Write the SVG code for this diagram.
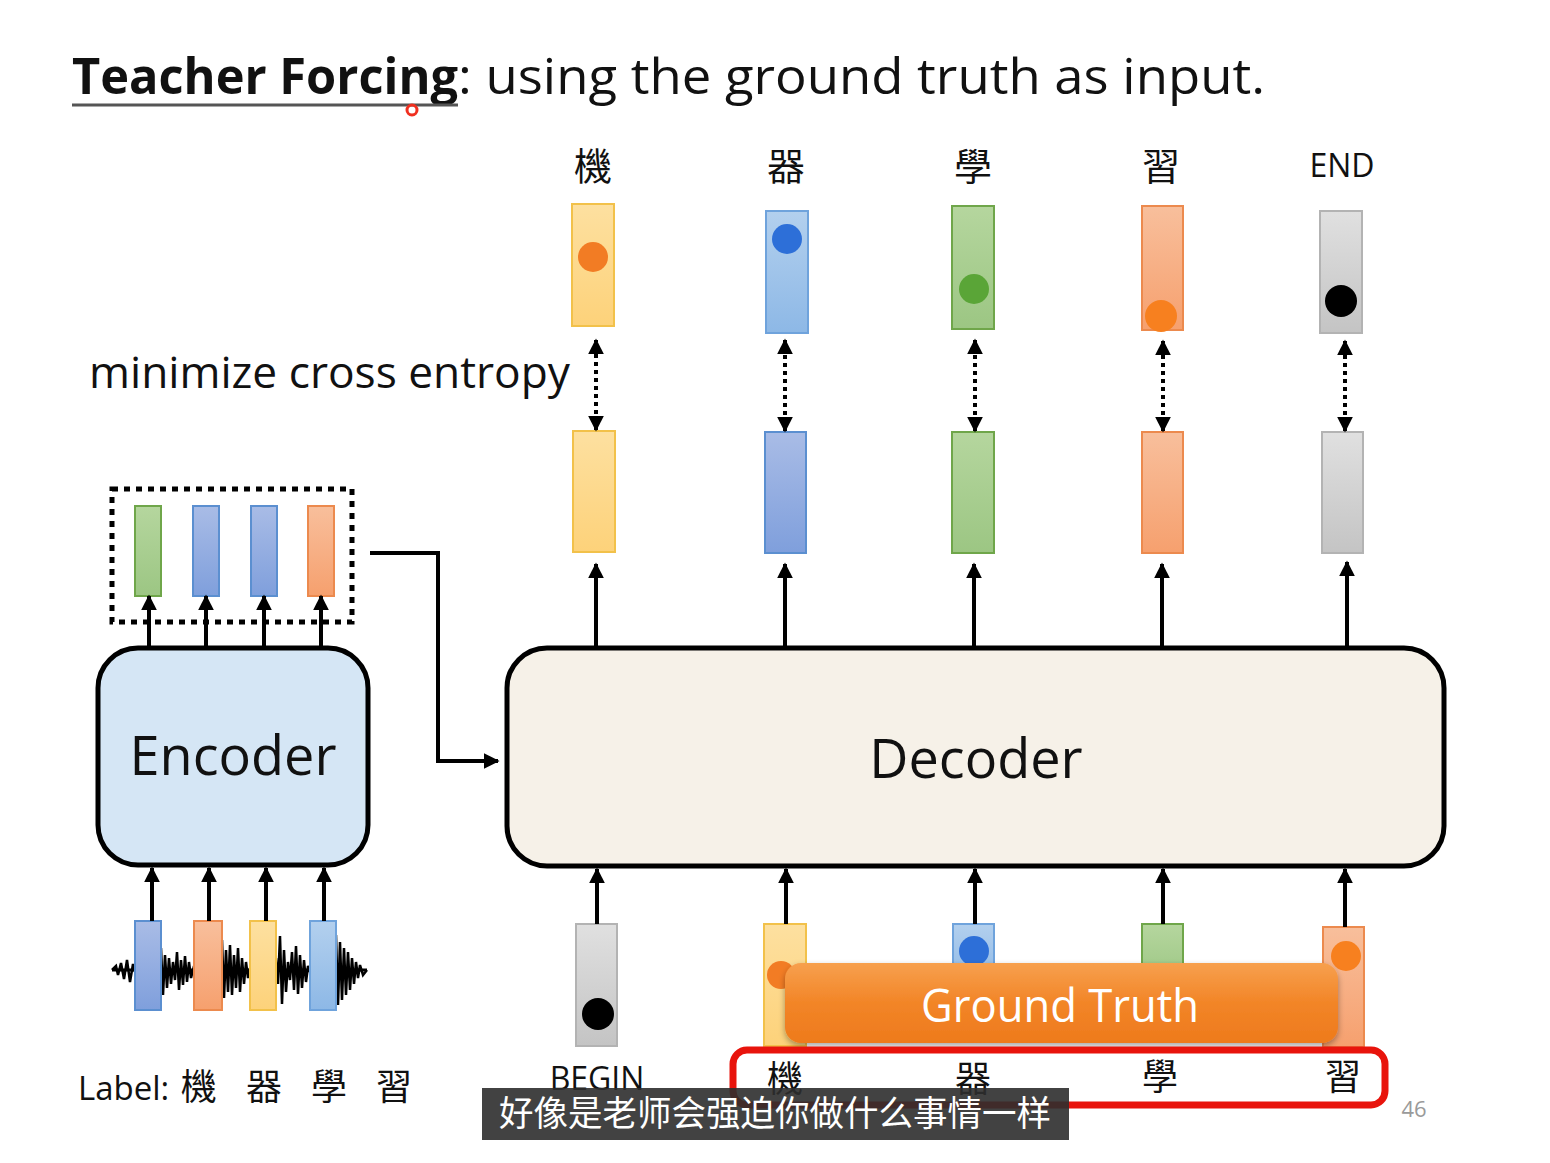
<svg xmlns="http://www.w3.org/2000/svg" width="1550" height="1163" viewBox="0 0 1550 1163">
<style>
.t{font-family:"Open Sans","Liberation Sans",sans-serif;fill:#111}
.cjk{font-family:"Noto Sans CJK TC","Noto Sans CJK SC",serif;fill:#111}
.ar{stroke:#000;stroke-width:4;fill:none}
.dot{stroke:#000;stroke-width:4;fill:none;stroke-dasharray:4 4}
.y{fill:url(#gy);stroke:#f2c14a;stroke-width:2}
.b{fill:url(#gb);stroke:#5b8fd0;stroke-width:2}
.lb{fill:url(#glb);stroke:#6fa3dc;stroke-width:2}
.g{fill:url(#gg);stroke:#6fa64a;stroke-width:2}
.o{fill:url(#go);stroke:#ec8a4e;stroke-width:2}
.k{fill:url(#gk);stroke:#b3b3b3;stroke-width:2}
</style>
<defs>
<linearGradient id="gy" x1="0" y1="0" x2="0" y2="1"><stop offset="0" stop-color="#fde0a0"/><stop offset="1" stop-color="#fdd27a"/></linearGradient>
<linearGradient id="gb" x1="0" y1="0" x2="0" y2="1"><stop offset="0" stop-color="#a9bce6"/><stop offset="1" stop-color="#7f9fdc"/></linearGradient>
<linearGradient id="glb" x1="0" y1="0" x2="0" y2="1"><stop offset="0" stop-color="#b3d0ee"/><stop offset="1" stop-color="#8db8e6"/></linearGradient>
<linearGradient id="gg" x1="0" y1="0" x2="0" y2="1"><stop offset="0" stop-color="#b5d69e"/><stop offset="1" stop-color="#9cc683"/></linearGradient>
<linearGradient id="go" x1="0" y1="0" x2="0" y2="1"><stop offset="0" stop-color="#f8bf9c"/><stop offset="1" stop-color="#f6a06e"/></linearGradient>
<linearGradient id="gk" x1="0" y1="0" x2="0" y2="1"><stop offset="0" stop-color="#e0e0e0"/><stop offset="1" stop-color="#c4c4c4"/></linearGradient>
<linearGradient id="ggt" x1="0" y1="0" x2="0" y2="1"><stop offset="0" stop-color="#f7a04e"/><stop offset="0.5" stop-color="#f28527"/><stop offset="1" stop-color="#ee7a1c"/></linearGradient>
<marker id="ah" viewBox="0 0 10 10" refX="9" refY="5" markerWidth="4" markerHeight="4" orient="auto-start-reverse"><path d="M0,0 L10,5 L0,10 z" fill="#000"/></marker>
<filter id="sh" x="-5%" y="-20%" width="110%" height="150%"><feDropShadow dx="0" dy="3" stdDeviation="3" flood-color="#000" flood-opacity="0.35"/></filter>
</defs>
<rect width="1550" height="1163" fill="#fff"/>

<g id="title">
<text x="72" y="94" class="t" font-size="50" font-weight="bold" textLength="386" lengthAdjust="spacingAndGlyphs">Teacher Forcing</text>
<text x="458" y="94" class="t" font-size="50" textLength="807" lengthAdjust="spacingAndGlyphs">: using the ground truth as input.</text>
<line x1="72" y1="105" x2="458" y2="105" stroke="#555" stroke-width="3"/>
<circle cx="412" cy="110" r="5" fill="none" stroke="#f03020" stroke-width="3"/>
</g>

<g id="outputs">
<text x="593" y="180" class="cjk" font-size="38" text-anchor="middle">機</text>
<text x="786" y="180" class="cjk" font-size="38" text-anchor="middle">器</text>
<text x="973" y="180" class="cjk" font-size="38" text-anchor="middle">學</text>
<text x="1161" y="180" class="cjk" font-size="38" text-anchor="middle">習</text>
<text x="1342" y="177" class="t" font-size="32" text-anchor="middle">END</text>
<rect x="572" y="204" width="42" height="122" class="y"/>
<circle cx="593" cy="257" r="15" fill="#f27c24"/>
<rect x="766" y="211" width="42" height="122" class="lb"/>
<circle cx="787" cy="239" r="15" fill="#2d6fd8"/>
<rect x="952" y="206" width="42" height="123" class="g"/>
<circle cx="974" cy="289" r="15" fill="#5aa537"/>
<rect x="1142" y="206" width="41" height="124" class="o"/>
<circle cx="1161" cy="316" r="16" fill="#f7801f"/>
<rect x="1320" y="211" width="42" height="122" class="k"/>
<circle cx="1341" cy="301" r="16" fill="#000"/>
</g>

<text id="loss" x="89" y="388" class="t" font-size="44" textLength="481" lengthAdjust="spacingAndGlyphs">minimize cross entropy</text>

<g id="decoder-outputs">
<rect x="573" y="431" width="42" height="121" class="y"/>
<rect x="765" y="432" width="41" height="121" class="b"/>
<rect x="952" y="432" width="42" height="121" class="g"/>
<rect x="1142" y="432" width="41" height="121" class="o"/>
<rect x="1322" y="432" width="41" height="121" class="k"/>
</g>

<g id="encoder-outputs">
<rect x="112" y="489" width="240" height="133" fill="none" stroke="#000" stroke-width="5" stroke-dasharray="6 6"/>
<rect x="135" y="506" width="26" height="90" class="g"/>
<rect x="193" y="506" width="26" height="90" class="b"/>
<rect x="251" y="506" width="26" height="90" class="b"/>
<rect x="308" y="506" width="26" height="90" class="o"/>
</g>

<g id="encoder">
<rect x="98" y="648" width="270" height="217" rx="40" fill="#d5e6f5" stroke="#000" stroke-width="5"/>
<text x="233" y="775" class="t" font-size="54" text-anchor="middle">Encoder</text>
</g>

<g id="decoder">
<rect x="507" y="648" width="937" height="218" rx="40" fill="#f6f1e8" stroke="#000" stroke-width="5"/>
<text x="976" y="778" class="t" font-size="54" text-anchor="middle">Decoder</text>
</g>

<g id="waveform" stroke="#000" fill="none">
<path d="M112,970 L116,966 L118,975 L121,963 L124,979 L127,960 L130,982 L133,964 L135,972 M161,948 L163,995 L165,955 L167,988 L169,958 L171,984 L173,962 L175,980 L177,952 L179,990 L181,960 L183,985 L185,956 L187,982 L189,962 L191,978 L194,966 M222,940 L224,998 L226,950 L228,992 L230,945 L232,995 L234,955 L236,988 L238,948 L240,992 L242,958 L244,984 L246,962 L248,978 L250,968 M276,958 L278,984 L280,936 L282,1004 L284,950 L286,992 L288,962 L290,980 L292,952 L294,990 L296,946 L298,994 L300,955 L302,988 L304,960 L306,982 L308,966 L310,972 M336,935 L338,1005 L340,942 L342,1000 L344,948 L346,995 L348,952 L350,990 L352,958 L354,984 L356,962 L358,978 L360,965 L363,975 L367,970" stroke-width="2.5"/>
<path d="M112,970 L367,970" stroke-width="3"/>
</g>
<g id="encoder-inputs">
<rect x="135" y="921" width="26" height="89" class="b"/>
<rect x="194" y="921" width="28" height="89" class="o"/>
<rect x="250" y="921" width="26" height="89" class="y"/>
<rect x="310" y="921" width="26" height="89" class="lb"/>
</g>

<text id="label" x="78" y="1100" class="t" font-size="33">Label: <tspan class="cjk" font-size="36" dx="3">機</tspan><tspan class="cjk" font-size="36" dx="29">器</tspan><tspan class="cjk" font-size="36" dx="29">學</tspan><tspan class="cjk" font-size="36" dx="29">習</tspan></text>

<g id="decoder-inputs">
<rect x="576" y="924" width="41" height="122" class="k"/>
<circle cx="598" cy="1014" r="16" fill="#000"/>
<rect x="764" y="924" width="42" height="122" class="y"/>
<circle cx="781" cy="975" r="14" fill="#f27c24"/>
<rect x="953" y="924" width="41" height="60" class="lb"/>
<circle cx="974" cy="951" r="15" fill="#2d6fd8"/>
<rect x="1142" y="924" width="41" height="60" class="g"/>
<rect x="1323" y="927" width="41" height="120" class="o"/>
<circle cx="1346" cy="956" r="15" fill="#f7801f"/>
</g>

<g id="ground-truth">
<rect x="785" y="963" width="553" height="80" rx="16" fill="url(#ggt)" filter="url(#sh)"/>
<text x="1060" y="1022" font-family="Open Sans, Liberation Sans, sans-serif" font-size="46" fill="#fff" text-anchor="middle" textLength="278" lengthAdjust="spacingAndGlyphs">Ground Truth</text>
</g>

<g id="teacher-labels">
<rect x="733" y="1050" width="652" height="55" rx="14" fill="none" stroke="#e8140c" stroke-width="7"/>
<text x="597" y="1090" class="t" font-size="32" text-anchor="middle">BEGIN</text>
<text x="785" y="1092" class="cjk" font-size="36" text-anchor="middle">機</text>
<text x="973" y="1092" class="cjk" font-size="36" text-anchor="middle">器</text>
<text x="1160" y="1090" class="cjk" font-size="36" text-anchor="middle">學</text>
<text x="1343" y="1090" class="cjk" font-size="36" text-anchor="middle">習</text>
</g>

<g id="connectors">
<line x1="596" y1="430" x2="596" y2="340" class="dot" marker-start="url(#ah)" marker-end="url(#ah)"/>
<line x1="785" y1="431" x2="785" y2="340" class="dot" marker-start="url(#ah)" marker-end="url(#ah)"/>
<line x1="975" y1="431" x2="975" y2="340" class="dot" marker-start="url(#ah)" marker-end="url(#ah)"/>
<line x1="1163" y1="431" x2="1163" y2="341" class="dot" marker-start="url(#ah)" marker-end="url(#ah)"/>
<line x1="1345" y1="431" x2="1345" y2="341" class="dot" marker-start="url(#ah)" marker-end="url(#ah)"/>
<line x1="596" y1="646" x2="596" y2="564" class="ar" marker-end="url(#ah)"/>
<line x1="785" y1="646" x2="785" y2="564" class="ar" marker-end="url(#ah)"/>
<line x1="974" y1="646" x2="974" y2="564" class="ar" marker-end="url(#ah)"/>
<line x1="1162" y1="646" x2="1162" y2="564" class="ar" marker-end="url(#ah)"/>
<line x1="1347" y1="646" x2="1347" y2="562" class="ar" marker-end="url(#ah)"/>
<line x1="149" y1="646" x2="149" y2="596" class="ar" marker-end="url(#ah)"/>
<line x1="206" y1="646" x2="206" y2="596" class="ar" marker-end="url(#ah)"/>
<line x1="264" y1="646" x2="264" y2="596" class="ar" marker-end="url(#ah)"/>
<line x1="321" y1="646" x2="321" y2="596" class="ar" marker-end="url(#ah)"/>
<line x1="152" y1="921" x2="152" y2="868" class="ar" marker-end="url(#ah)"/>
<line x1="209" y1="921" x2="209" y2="868" class="ar" marker-end="url(#ah)"/>
<line x1="266" y1="921" x2="266" y2="868" class="ar" marker-end="url(#ah)"/>
<line x1="324" y1="921" x2="324" y2="868" class="ar" marker-end="url(#ah)"/>
<line x1="597" y1="924" x2="597" y2="869" class="ar" marker-end="url(#ah)"/>
<line x1="786" y1="924" x2="786" y2="869" class="ar" marker-end="url(#ah)"/>
<line x1="975" y1="924" x2="975" y2="869" class="ar" marker-end="url(#ah)"/>
<line x1="1163" y1="924" x2="1163" y2="869" class="ar" marker-end="url(#ah)"/>
<line x1="1345" y1="927" x2="1345" y2="869" class="ar" marker-end="url(#ah)"/>
<polyline points="370,553 438,553 438,761 498,761" class="ar" marker-end="url(#ah)"/>
</g>

<text id="page" x="1414" y="1117" class="t" font-size="22" style="fill:#9a9a9a" text-anchor="middle">46</text>

<g id="subtitle">
<rect x="482" y="1088" width="587" height="52" fill="#2e2e2e" fill-opacity="0.9"/>
<text x="775" y="1126" font-family="Noto Sans CJK SC, sans-serif" font-size="35" fill="#fff" text-anchor="middle" textLength="552" lengthAdjust="spacingAndGlyphs">好像是老师会强迫你做什么事情一样</text>
</g>
</svg>
